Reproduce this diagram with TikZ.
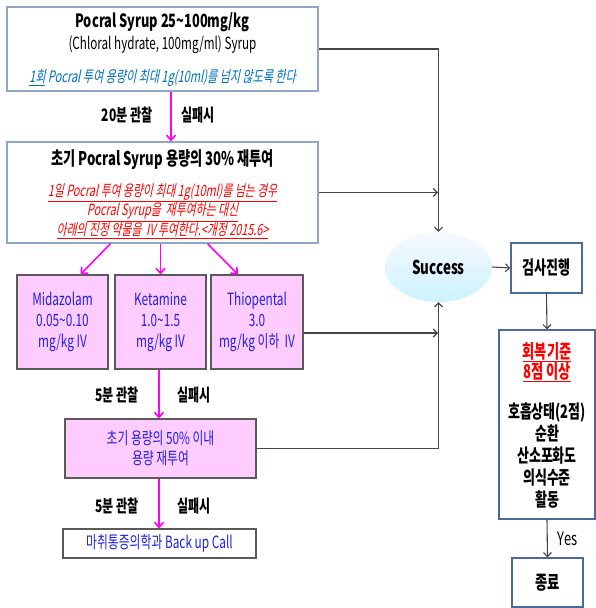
\documentclass[tikz,border=0pt]{standalone}
\usepackage{fontspec}
\setmainfont{Noto Sans CJK KR}[FakeStretch=0.7]
\newfontfamily\slantfont{Noto Sans CJK KR}[FakeStretch=0.7,FakeSlant=0.2]
\usetikzlibrary{shapes.geometric,arrows.meta,calc}
\definecolor{boxblue}{HTML}{8FA6C6}
\definecolor{boxdark}{HTML}{4A6A9C}
\definecolor{drugfill}{HTML}{FFCCFF}
\definecolor{druggray}{HTML}{5A5A5A}
\definecolor{txtblue}{HTML}{2020E0}
\definecolor{noteblue}{HTML}{0070C0}
\definecolor{mag}{HTML}{FF00FF}
\definecolor{conn}{HTML}{454545}
\tikzset{
  bluebox/.style={draw=boxblue,line width=1.2pt,fill=white,align=center,inner sep=0pt},
  darkbox/.style={draw=boxdark,line width=1.6pt,fill=white,align=center,inner sep=0pt,font=\bfseries\fontsize{18.6}{20}\selectfont},
  drugbox/.style={draw=druggray,line width=1.1pt,fill=drugfill,align=center,inner sep=0pt,text=txtblue,font=\fontsize{16.9}{21}\selectfont},
  magarrow/.style={draw=mag,line width=1.6pt,-{Straight Barb[length=5pt,width=9pt]}},
  connarrow/.style={draw=conn,line width=1.1pt,-{Straight Barb[length=4pt,width=8pt]}},
  lbl/.style={font=\bfseries\fontsize{17.2}{19}\selectfont,inner sep=0pt}
}
\begin{document}
\begin{tikzpicture}[x=1pt,y=-1pt]
\useasboundingbox (0,0) rectangle (596,608);
% main boxes
\node[bluebox,minimum width=311,minimum height=84] (b1) at (162.5,49) {};
\node[font=\bfseries\fontsize{18.3}{20}\selectfont] (b1t1) at (162.5,22) {Pocral Syrup 25\textasciitilde100mg/kg};
\node[font=\fontsize{16.7}{18}\selectfont] (b1t2) at (162.5,45) {(Chloral hydrate, 100mg/ml) Syrup};
\node[font=\slantfont\fontsize{15.8}{17}\selectfont,text=noteblue] (b1t3) at (162.5,78) {\underline{1회} Pocral 투여 용량이 최대 1g(10ml)를 넘지 않도록 한다};

\node[bluebox,minimum width=311,minimum height=101] (b2) at (162.5,192.5) {};
\node[font=\bfseries\fontsize{18.8}{21}\selectfont] (b2t1) at (162.5,160) {초기 Pocral Syrup 용량의 30\% 재투여};
\node[font=\slantfont\fontsize{15.5}{18}\selectfont,text=red,align=center] (b2t2) at (162.5,211) {\underline{1일 Pocral 투여 용량이 최대 1g(10ml)를 넘는 경우}\\\underline{Pocral Syrup을\ \ 재투여하는 대신}\\\underline{아래의 진정 약물을\ \ IV 투여한다.<개정 2015.6>}};

\node[drugbox,minimum width=91,minimum height=94] (mid) at (62.5,322) {Midazolam\\0.05\textasciitilde0.10\\mg/kg IV};
\node[drugbox,minimum width=91,minimum height=94] (ket) at (160.5,322) {Ketamine\\1.0\textasciitilde1.5\\mg/kg IV};
\node[drugbox,minimum width=92,minimum height=94] (thio) at (257,322) {Thiopental\\3.0\\mg/kg 이하\ \ IV};

\node[drugbox,minimum width=191,minimum height=59,font=\fontsize{16.8}{20}\selectfont] (b50) at (160.5,448.5) {초기 용량의 50\% 이내\\용량 재투여};
\node[draw=druggray,line width=1.1pt,fill=white,minimum width=193,minimum height=29,inner sep=0pt,text=txtblue,font=\fontsize{16.9}{18}\selectfont] (back) at (159.5,543.5) {마취통증의학과 Back up Call};

% right column
\node[ellipse,draw=none,minimum width=107,minimum height=70,top color=white!80!blue!12,bottom color=blue!25!cyan!20,inner sep=0pt,font=\bfseries\fontsize{19.1}{21}\selectfont] (succ) at (438.5,267) {Success};
\node[darkbox,minimum width=71,minimum height=50] (gs) at (546.5,268) {검사진행};
\node[darkbox,minimum width=96,minimum height=189,line width=1.3pt] (rec) at (547,424.5) {};
\node[font=\bfseries\fontsize{18.9}{20}\selectfont,text=red,align=center] (rect1) at (547,362) {\underline{회복기준}\\\underline{8점 이상}};
\node[font=\bfseries\fontsize{18.5}{22}\selectfont,align=center] (rect2) at (547,456) {호흡상태(2점)\\순환\\산소포화도\\의식수준\\활동};
\node[darkbox,minimum width=71,minimum height=49,line width=1.3pt,font=\bfseries\fontsize{19}{21}\selectfont] (end) at (547.5,582.5) {종료};

% magenta arrows
\draw[magarrow] (b1.south -| 171,0) -- (b2.north -| 171,0);
\draw[magarrow] ([xshift=-52]b2.south) -- ([xshift=18]mid.north);
\draw[magarrow] (ket.north |- b2.south) -- (ket.north);
\draw[magarrow] ([xshift=45]b2.south) -- ([xshift=-19]thio.north);
\draw[magarrow] ([xshift=-1.5]ket.south) -- ([xshift=-1.5]b50.north);
\draw[magarrow] ([xshift=-1.5]b50.south) -- ([xshift=-0.5]back.north);

\node[lbl] (l1a) at (127,115) {20분 관찰};
\node[lbl] (l1b) at (198,115) {실패시};
\node[lbl] (l2a) at (117,395) {5분 관찰};
\node[lbl] (l2b) at (194,395) {실패시};
\node[lbl] (l3a) at (117,506) {5분 관찰};
\node[lbl] (l3b) at (194,506) {실패시};

% connectors
\coordinate (vx) at (438,0);
\draw[connarrow] (b1.east) -| (succ.north);
\draw[connarrow] (b2.east) -- (b2.east -| vx);
\draw[connarrow] ([yshift=-11]thio.east) -- ([yshift=-11]thio.east -| vx);
\draw[connarrow] (b50.east) -| (succ.south);
\draw[connarrow] (succ.east) -- (gs.west);
\draw[connarrow] (gs.south) -- (rec.north);
\draw[connarrow] (rec.south) -- node[right=10pt,font=\fontsize{18.5}{20}\selectfont,inner sep=0pt] (yes) {Yes} (end.north);
\end{tikzpicture}
\end{document}
